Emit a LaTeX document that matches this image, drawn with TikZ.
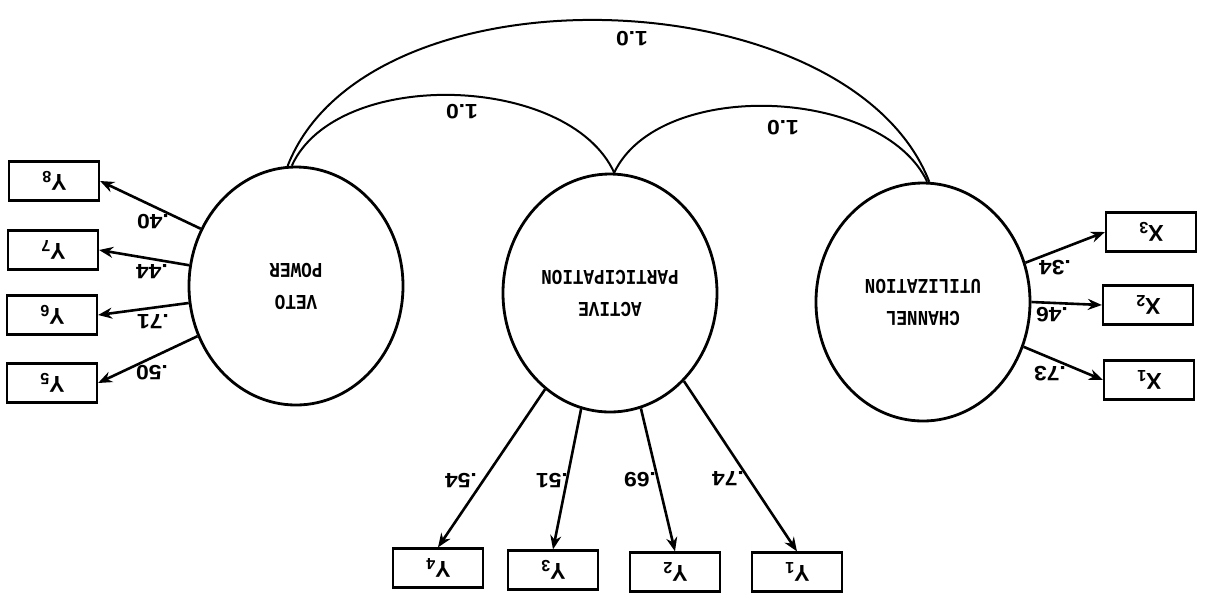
\documentclass[tikz,border=0pt]{standalone}
\usepackage{fontspec}
\setmainfont{Liberation Sans}
\newfontfamily\monofnt{Liberation Mono}
\usepackage{graphicx}
\usetikzlibrary{shapes.geometric,arrows.meta}
\newcommand{\circtext}[2]{\rotatebox{180}{\scalebox{1}[1.2]{\monofnt\bfseries\fontsize{8.8}{13.5}\selectfont\begin{tabular}{@{}c@{}}#1\\#2\end{tabular}}}}
\newcommand{\boxtext}[2]{\rotatebox{180}{#1\textsubscript{#2}}}
\newcommand{\lbltext}[1]{\scalebox{1}[0.9]{#1}}
\tikzset{
  latent/.style={ellipse, draw, line width=1.4pt, inner sep=0pt, minimum width=107pt, minimum height=119pt},
  indicator/.style={draw, line width=1.1pt, minimum width=45pt, minimum height=19.5pt, inner sep=0pt, font=\bfseries\fontsize{11.5}{13}\selectfont},
  load/.style={-{Stealth[length=7pt,width=5.5pt]}, line width=1.3pt},
  corr/.style={line width=1pt},
  lbl/.style={rotate=180, inner sep=0pt, font=\bfseries\fontsize{11.5}{13}\selectfont}
}
\begin{document}
\begin{tikzpicture}[x=0.5pt,y=-0.5pt]
\useasboundingbox (0,0) rectangle (1207,607);
% latent variables
\node[latent] (veto) at (296,286) {\circtext{VETO}{POWER}};
\node[latent] (act) at (610,293) {\circtext{ACTIVE}{PARTICIPATION}};
\node[latent] (chan) at (923,302) {\circtext{CHANNEL}{UTILIZATION}};
% indicators
\node[indicator] (y8) at (54,181) {\boxtext{Y}{8}};
\node[indicator] (y7) at (53,250) {\boxtext{Y}{7}};
\node[indicator] (y6) at (52,315) {\boxtext{Y}{6}};
\node[indicator] (y5) at (52,383) {\boxtext{Y}{5}};
\node[indicator] (y4) at (438,568) {\boxtext{Y}{4}};
\node[indicator] (y3) at (553,570) {\boxtext{Y}{3}};
\node[indicator] (y2) at (675,572) {\boxtext{Y}{2}};
\node[indicator] (y1) at (797,572) {\boxtext{Y}{1}};
\node[indicator] (x3) at (1151,232) {\boxtext{X}{3}};
\node[indicator] (x2) at (1148,305) {\boxtext{X}{2}};
\node[indicator] (x1) at (1149,380) {\boxtext{X}{1}};
% loadings
\draw[load] (veto.149) -- (y8.east);
\draw[load] (veto.169) -- (y7.east);
\draw[load] (veto.189.5) -- (y6.east);
\draw[load] (veto.207.5) -- (y5.east);
\draw[load] (act.236.7) -- (y4.north);
\draw[load] (act.256.4) -- (y3.north);
\draw[load] (act.285.4) -- (y2.north);
\draw[load] (act.310.8) -- (y1.north);
\draw[load] (chan.21) -- (x3.west);
\draw[load] (chan.0) -- (x2.west);
\draw[load] (chan.336) -- (x1.west);
% correlations
\draw[corr] (veto.94) .. controls +(80,-205) and +(-80,-205) .. (chan.87);
\draw[corr] (veto.92) .. controls +(45,-99) and +(-45,-99) .. (act.88.5);
\draw[corr] (act.88.5) .. controls +(45,-95) and +(-45,-95) .. (chan.88);
% labels
\node[lbl] (c1) at (632,39) {\lbltext{1.0}};
\node[lbl] (c2) at (462,112) {\lbltext{1.0}};
\node[lbl] (c3) at (783,128) {\lbltext{1.0}};
\node[lbl] (l8) at (153,222) {\lbltext{.40}};
\node[lbl] (l7) at (152,272) {\lbltext{.44}};
\node[lbl] (l6) at (153,322) {\lbltext{.71}};
\node[lbl] (l5) at (152,373) {\lbltext{.50}};
\node[lbl] (l4) at (461,481) {\lbltext{.54}};
\node[lbl] (l3) at (552,481) {\lbltext{.51}};
\node[lbl] (l2) at (640,480) {\lbltext{.69}};
\node[lbl] (l1) at (728,479) {\lbltext{.74}};
\node[lbl] (m3) at (1055,268) {\lbltext{.34}};
\node[lbl] (m2) at (1052,315) {\lbltext{.46}};
\node[lbl] (m1) at (1050,374) {\lbltext{.73}};
\end{tikzpicture}
\end{document}
